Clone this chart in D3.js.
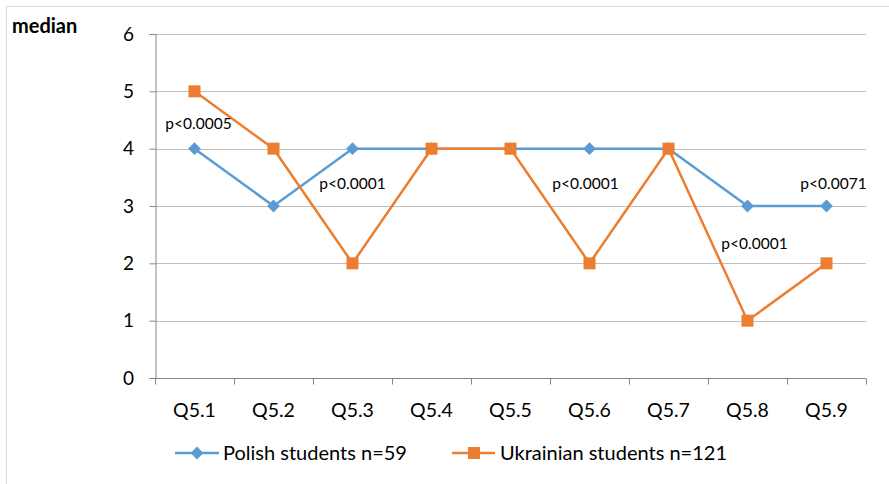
<!DOCTYPE html>
<html>
<head>
<meta charset="utf-8">
<script src="https://d3js.org/d3.v7.min.js"></script>
<style>
  body { margin: 0; background: #fff; }
  svg text { font-family: Lato, "Open Sans", sans-serif; fill: #000; }
</style>
</head>
<body>
<svg id="chart" width="889" height="484"></svg>
<script>
var categories = ["Q5.1", "Q5.2", "Q5.3", "Q5.4", "Q5.5", "Q5.6", "Q5.7", "Q5.8", "Q5.9"];
var polish = [4, 3, 4, 4, 4, 4, 4, 3, 3];
var ukrainian = [5, 4, 2, 4, 4, 2, 4, 1, 2];
var yTicks = [0, 1, 2, 3, 4, 5, 6];
// p-value labels: category, value height, small x shift
var pLabels = ["p<0.0005", "p<0.0001", "p<0.0001", "p<0.0001", "p<0.0071"];
var pCats = ["Q5.1", "Q5.3", "Q5.6", "Q5.8", "Q5.9"];
var pVals = [4.43, 3.39, 3.39, 2.34, 3.39];
var pShift = [4, 0, -4, 7, 7];

var margin = {top: 34, left: 155, right: 23, bottom: 106},
    width = 889 - margin.left - margin.right,
    height = 484 - margin.top - margin.bottom;

var svg = d3.select("#chart");

// outer frame
svg.append("rect")
  .attr("x", 6.5).attr("y", 6.5)
  .attr("width", 889).attr("height", 484)
  .attr("fill", "none").attr("stroke", "#d9d9d9");

var g = svg.append("g").attr("transform", "translate(" + margin.left + "," + margin.top + ")");

var x = d3.scaleBand().domain(categories).range([0, width]);
var y = d3.scaleLinear().domain([0, 6]).range([height, 0]);

// gridlines
g.selectAll(".grid")
  .data(yTicks.filter(function(d) { return d > 0; }))
  .enter().append("line")
    .attr("x1", 0).attr("x2", width)
    .attr("y1", function(d) { return Math.round(y(d)) + 0.5; })
    .attr("y2", function(d) { return Math.round(y(d)) + 0.5; })
    .attr("stroke", "#bfbfbf");

// y axis
var yAxis = g.append("g")
  .attr("transform", "translate(0.5,0)")
  .call(d3.axisLeft(y).tickValues(yTicks).tickFormat(d3.format("d")).tickSize(6).tickPadding(12));
yAxis.select(".domain").attr("stroke", "#868686");
yAxis.selectAll(".tick line").attr("stroke", "#868686");
yAxis.selectAll("text").style("font-size", "19px").attr("text-anchor", "middle").attr("x", -27);

// x axis
var xAxis = g.append("g")
  .attr("transform", "translate(0," + (Math.round(y(0)) + 0.5) + ")");
xAxis.append("line").attr("x1", 0).attr("x2", width).attr("stroke", "#868686");
xAxis.selectAll(".xt")
  .data(categories.concat(["end"]))
  .enter().append("line")
    .attr("x1", function(d, i) { return Math.round(i * x.step()) + 0.5; })
    .attr("x2", function(d, i) { return Math.round(i * x.step()) + 0.5; })
    .attr("y1", 0).attr("y2", 6)
    .attr("stroke", "#868686");
xAxis.selectAll(".xl")
  .data(categories)
  .enter().append("text")
    .attr("x", function(d) { return x(d) + x.bandwidth() / 2; })
    .attr("y", 38)
    .attr("text-anchor", "middle")
    .style("font-size", "19.5px")
    .text(function(d) { return d; });

// lines
var line = d3.line()
  .x(function(d, i) { return x(categories[i]) + x.bandwidth() / 2; })
  .y(function(d) { return y(d); });

g.append("path").datum(polish)
  .attr("d", line).attr("fill", "none")
  .attr("stroke", "#5b9bd5").attr("stroke-width", 2.5);

g.append("path").datum(ukrainian)
  .attr("d", line).attr("fill", "none")
  .attr("stroke", "#ed7d31").attr("stroke-width", 2.5);

var diamond = d3.symbol().type(d3.symbolDiamond2).size(105);

g.selectAll(".pm").data(polish).enter().append("path")
  .attr("d", diamond)
  .attr("transform", function(d, i) { return "translate(" + (x(categories[i]) + x.bandwidth() / 2) + "," + y(d) + ")"; })
  .attr("fill", "#5b9bd5");

g.selectAll(".um").data(ukrainian).enter().append("rect")
  .attr("x", function(d, i) { return x(categories[i]) + x.bandwidth() / 2 - 6; })
  .attr("y", function(d) { return y(d) - 6; })
  .attr("width", 12).attr("height", 12)
  .attr("fill", "#ed7d31");

// p-value labels
g.selectAll(".pl").data(pLabels).enter().append("text")
  .attr("x", function(d, i) { return x(pCats[i]) + x.bandwidth() / 2 + pShift[i]; })
  .attr("y", function(d, i) { return y(pVals[i]) + 5; })
  .attr("text-anchor", "middle")
  .style("font-size", "15.5px")
  .text(function(d) { return d; });

// axis title
svg.append("text")
  .attr("x", 12).attr("y", 33)
  .style("font-size", "20px").style("font-weight", "bold")
  .text("median");

// legend
var legend = svg.append("g").attr("transform", "translate(0,453)");
legend.append("line").attr("x1", 175).attr("x2", 219).attr("y1", 0).attr("y2", 0)
  .attr("stroke", "#5b9bd5").attr("stroke-width", 2.5);
legend.append("path").attr("d", diamond).attr("transform", "translate(197,0)").attr("fill", "#5b9bd5");
legend.append("text").attr("x", 223).attr("y", 7).style("font-size", "20px").text("Polish students n=59");

legend.append("line").attr("x1", 452).attr("x2", 495).attr("y1", 0).attr("y2", 0)
  .attr("stroke", "#ed7d31").attr("stroke-width", 2.5);
legend.append("rect").attr("x", 468).attr("y", -6).attr("width", 12).attr("height", 12).attr("fill", "#ed7d31");
legend.append("text").attr("x", 500).attr("y", 7).style("font-size", "20px").text("Ukrainian students n=121");
</script>
</body>
</html>
